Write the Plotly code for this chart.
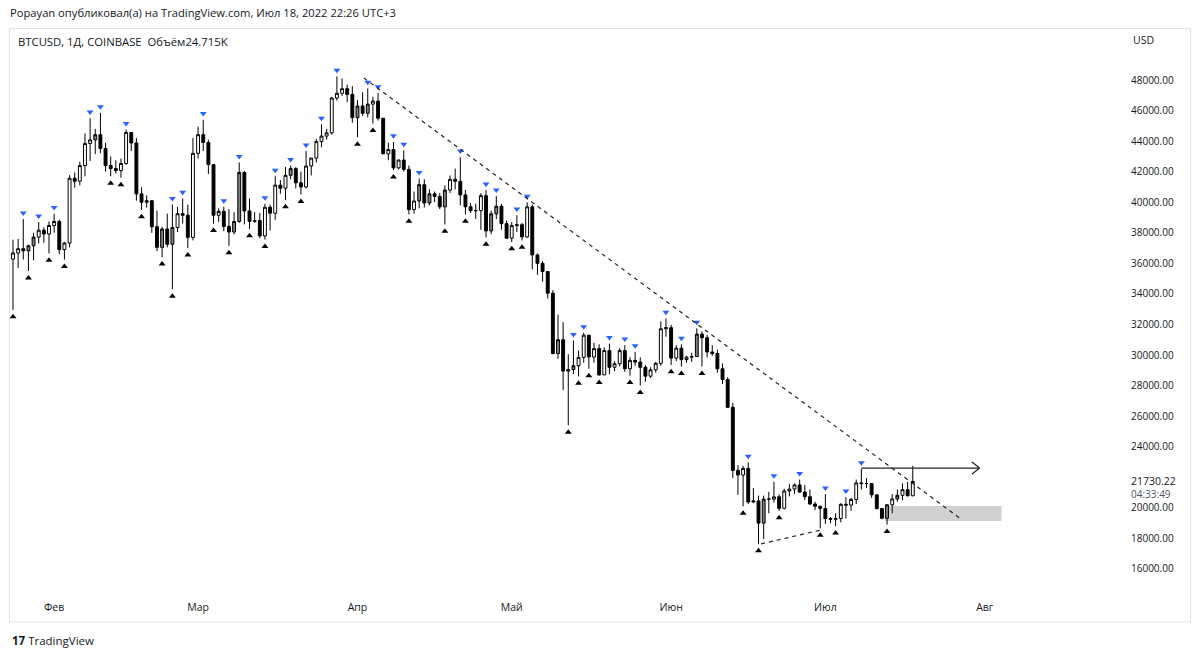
import plotly.graph_objects as go
import pandas as pd

# ---------------- data (BTCUSD daily, Coinbase) ----------------
dates = pd.date_range("2022-01-22", "2022-07-18", freq="D")

opens = [36450, 35050, 36280, 36680, 36960, 36820, 37150, 37720, 38170, 37920,
         38480, 38740, 36900, 37330, 41570, 41380, 42400, 43840, 44080, 44420,
         43520, 42400, 42210, 42070, 42540, 44570, 43880, 40550, 40000, 40100,
         38400, 37050, 38250, 37250, 38350, 39250, 39150, 37700,
         43200, 44420, 43910, 42460, 39150, 39400, 38420, 38050, 38740, 41950,
         39430, 38750, 38800, 37800, 39670, 39280, 41120, 40920, 41760, 42200,
         41270, 41000, 42370, 42890, 43970, 44330, 44540, 46820, 47130, 47430, 47060,
         45530, 46300, 45820, 46420, 46620, 45500, 43170, 43450, 42250, 42760,
         42150, 39520, 40080, 41150, 39950, 40550, 40380, 39700, 40800, 41500,
         41370, 40480, 39700, 39450, 39450, 40430, 38120, 39240, 39740, 38600,
         37650, 38470, 38530, 37730, 39700, 36550, 36000, 35470, 34050, 30100,
         31000, 28950, 29050, 29300, 29850, 31300, 29870, 30420, 28700, 30300,
         29200, 29430, 30290, 29100, 29650, 29540, 29200, 28620, 29030, 29460, 31720,
         31790, 29800, 30450, 29700, 29860, 29900, 31370, 31130, 30200, 30100,
         29100, 28400, 26580, 22450, 22150, 22580, 20380, 20450, 19000, 20570,
         20570, 20720, 19970, 21100, 21230, 21500, 21030, 20730, 20250, 20100,
         19950, 19300, 19250, 19300, 20230, 20180, 20550, 21630, 21590, 21590,
         20850, 19950, 19320, 20200, 20580, 20820, 21190, 20790]

highs = [36800, 36450, 37550, 37600, 38900, 37230, 38000, 38700, 38360, 38750,
         39250, 38850, 37400, 41770, 41950, 42650, 44500, 45500, 44800, 45850,
         43900, 43000, 42750, 42850, 44750, 44570, 44200, 40980, 40450, 40150,
         39450, 38400, 39250, 39850, 39700, 40250, 39850, 44200,
         44950, 45400, 44100, 42500, 39600, 39700, 39550, 39350, 42600, 42050,
         40250, 39350, 39300, 39900, 39850, 41700, 41450, 42300, 42400, 42300,
         42000, 43350, 42900, 44150, 45100, 44800, 46900, 48230, 48100, 47700, 47600,
         46700, 47200, 47450, 46900, 47150, 45500, 43900, 43950, 42800, 43400,
         42400, 40700, 41550, 41500, 40850, 40700, 40600, 41100, 41750, 42200,
         42950, 40800, 39950, 39900, 40600, 40800, 39450, 40400, 39900, 38800,
         38700, 39150, 38650, 40000, 39850, 36650, 36150, 35500, 34250, 32650,
         32150, 30050, 30950, 30300, 31450, 31300, 30800, 30700, 30500, 30750,
         29600, 30450, 30650, 29850, 30200, 29850, 29350, 29200, 29550, 32200, 32400,
         31980, 30650, 30700, 29950, 30150, 31750, 31550, 31330, 30650, 30350,
         29450, 28550, 26880, 22800, 22750, 22980, 21300, 20800, 20800, 21050,
         21700, 20880, 21250, 21550, 21600, 21850, 21500, 21200, 20400, 20150,
         20900, 19400, 19650, 20300, 20700, 20650, 21850, 22550, 21950, 21600,
         20850, 20000, 20250, 20900, 21200, 21600, 21700, 22750]

lows = [34000, 34650, 32950, 35700, 36250, 35500, 36200, 37300, 37350, 36650,
        38000, 36600, 36250, 37050, 40950, 41100, 41700, 42700, 43150, 43200,
        42000, 41700, 41880, 41600, 42440, 43350, 40100, 39500, 39650, 38000,
        36800, 36400, 37050, 34300, 38050, 38600, 37000, 37500,
        42850, 43350, 41850, 38600, 38700, 38100, 37150, 37900, 38660, 38550,
        38250, 38650, 37650, 37550, 38150, 38850, 40550, 40150, 41500, 40900,
        40500, 40900, 41750, 42600, 43600, 44100, 44420, 46650, 46950, 46550, 45200,
        44250, 45650, 45550, 45150, 45350, 43150, 42750, 42100, 42150, 42000,
        39200, 39250, 39600, 39650, 39800, 40000, 39550, 38550, 40600, 40850,
        39800, 39200, 39300, 38900, 38200, 37700, 37900, 38900, 38200, 37600,
        37400, 38050, 37500, 37680, 35600, 35250, 34800, 33700, 30050, 29750,
        27700, 25400, 28750, 28600, 29500, 29100, 29500, 28650, 28700, 28750,
        28950, 29250, 28900, 28650, 29300, 28000, 28250, 28500, 28850, 29300, 31200,
        29350, 29600, 29250, 29500, 29550, 29880, 29250, 29850, 29950, 28850,
        28100, 26550, 21950, 20850, 20100, 20250, 20300, 17650, 17950, 19650,
        20350, 19800, 19900, 20750, 20900, 20980, 20500, 20200, 19850, 18650,
        18950, 18990, 18800, 19050, 19300, 19800, 20250, 21200, 21300, 20650,
        19900, 19250, 18900, 19650, 20400, 20500, 20750, 20760]

closes = [35050, 36280, 36680, 36960, 36820, 37150, 37720, 38170, 37920, 38480,
          38740, 36900, 37330, 41570, 41380, 42400, 43840, 44080, 44420, 43520,
          42400, 42210, 42070, 42540, 44570, 43880, 40550, 40000, 40100, 38400,
          37050, 38250, 37250, 38350, 39250, 39150, 37700, 43200,
          44420, 43910, 42460, 39150, 39400, 38420, 38050, 38740, 41950, 39430,
          38750, 38800, 37800, 39670, 39280, 41120, 40920, 41760, 42200, 41270,
          41000, 42370, 42890, 43970, 44330, 44540, 46820, 47130, 47430, 47060, 45530,
          46300, 45820, 46420, 46620, 45500, 43170, 43450, 42250, 42760, 42150,
          39520, 40080, 41150, 39950, 40550, 40380, 39700, 40800, 41500, 41370,
          40480, 39700, 39450, 39450, 40430, 38120, 39240, 39740, 38600, 37650,
          38470, 38530, 37730, 39700, 36550, 36000, 35470, 34050, 30100, 31000,
          28950, 29050, 29300, 29850, 31300, 29870, 30420, 28700, 30300, 29200,
          29430, 30290, 29100, 29650, 29540, 29200, 28620, 29030, 29460, 31720, 31790,
          29800, 30450, 29700, 29860, 29900, 31370, 31130, 30200, 30100, 29100,
          28400, 26580, 22450, 22150, 22580, 20380, 20450, 19000, 20570, 20570,
          20720, 19970, 21100, 21230, 21500, 21030, 20730, 20250, 20100, 19950,
          19300, 19250, 19300, 20230, 20180, 20550, 21630, 21590, 21590, 20850,
          19950, 19320, 20200, 20580, 20820, 21190, 20790, 21730]

# candles drawn in grey in the original
grey_days = ["2022-01-27", "2022-01-28", "2022-02-09", "2022-02-22", "2022-02-24",
             "2022-03-08", "2022-03-09", "2022-03-19", "2022-04-01", "2022-04-03",
             "2022-04-13", "2022-04-15", "2022-04-18", "2022-04-27", "2022-04-28",
             "2022-05-10", "2022-05-12", "2022-05-13", "2022-06-06", "2022-06-19",
             "2022-07-13", "2022-07-15"]

month_ticks = ["2022-02-01", "2022-03-01", "2022-04-01", "2022-05-01",
               "2022-06-01", "2022-07-01", "2022-08-01"]
month_labels = ["Фев", "Мар", "Апр", "Май", "Июн", "Июл", "Авг"]
price_ticks = [16000, 18000, 20000, 24000, 26000, 28000, 30000, 32000,
               34000, 36000, 38000, 40000, 42000, 44000, 46000, 48000]

last_price = "21730.22"
countdown = "04:33:49"

# ---------------- 3-bar fractals derived from the data ----------------
up_x, up_y, dn_x, dn_y = [], [], [], []
for i in range(1, len(dates) - 1):
    if highs[i] > highs[i - 1] and highs[i] > highs[i + 1]:
        up_x.append(dates[i]); up_y.append(highs[i] + 400)
    if lows[i] < lows[i - 1] and lows[i] < lows[i + 1]:
        dn_x.append(dates[i]); dn_y.append(lows[i] - 450)

grey_set = set(pd.to_datetime(grey_days))
is_grey = [d in grey_set for d in dates]


def subset(vals, want):
    return [v for v, g in zip(vals, is_grey) if g == want]


# ---------------- layout geometry ----------------
W, H = 1200, 658
PL, PR, PT, PB = 10, 1118, 28, 595


def fx(x):
    return (x - PL) / (PR - PL)


def fy(y):
    return (PB - y) / (PB - PT)


FONT = "Open Sans"
TXT = "#131722"
GREY = "#7f7f7f"
LINE = "#222222"

fig = go.Figure()

fig.add_trace(go.Candlestick(
    x=subset(list(dates), False), open=subset(opens, False), high=subset(highs, False),
    low=subset(lows, False), close=subset(closes, False),
    increasing=dict(line=dict(color="#000000", width=1), fillcolor="#ffffff"),
    decreasing=dict(line=dict(color="#000000", width=1), fillcolor="#000000"),
    whiskerwidth=0, showlegend=False, hoverinfo="x+y",
))
fig.add_trace(go.Candlestick(
    x=subset(list(dates), True), open=subset(opens, True), high=subset(highs, True),
    low=subset(lows, True), close=subset(closes, True),
    increasing=dict(line=dict(color="#000000", width=1), fillcolor=GREY),
    decreasing=dict(line=dict(color="#000000", width=1), fillcolor=GREY),
    whiskerwidth=0, showlegend=False, hoverinfo="x+y",
))

fig.add_trace(go.Scatter(
    x=up_x, y=up_y, mode="markers", showlegend=False,
    marker=dict(symbol="triangle-down", size=6, color="#2962ff"),
))
fig.add_trace(go.Scatter(
    x=dn_x, y=dn_y, mode="markers", showlegend=False,
    marker=dict(symbol="triangle-up", size=6, color="#000000"),
))

shapes = []
# highlight zone
shapes.append(dict(type="rect", xref="x", yref="y",
                   x0="2022-07-12 12:00", x1="2022-08-04 06:00", y0=19140, y1=20120,
                   fillcolor="#d1d1d1", line=dict(width=0), layer="below"))
# descending trend line
shapes.append(dict(type="line", xref="x", yref="y",
                   x0="2022-04-02 06:00", y0=48130, x1="2022-07-27 02:00", y1=19340,
                   line=dict(color=LINE, width=1.2, dash="4px,4px")))
# lower support line
shapes.append(dict(type="line", xref="x", yref="y",
                   x0="2022-06-18 12:00", y0=17640, x1="2022-06-30 06:00", y1=18560,
                   line=dict(color=LINE, width=1.2, dash="4px,4px")))
# horizontal arrow
shapes.append(dict(type="line", xref="x", yref="y",
                   x0="2022-07-08", y0=22600, x1="2022-07-31", y1=22600,
                   line=dict(color=LINE, width=1.3)))
shapes.append(dict(type="line", xref="x", yref="y",
                   x0="2022-07-29 12:00", y0=23000, x1="2022-07-31", y1=22600,
                   line=dict(color=LINE, width=1.3)))
shapes.append(dict(type="line", xref="x", yref="y",
                   x0="2022-07-29 12:00", y0=22200, x1="2022-07-31", y1=22600,
                   line=dict(color=LINE, width=1.3)))
# chart frame
shapes.append(dict(type="rect", xref="paper", yref="paper",
                   x0=fx(9.5), x1=fx(1190.5), y0=fy(622), y1=fy(28.5),
                   line=dict(color="#e0e3eb", width=1), fillcolor="rgba(0,0,0,0)",
                   layer="below"))

ann = []
ann.append(dict(x=fx(8), y=fy(12), xref="paper", yref="paper", xanchor="left",
                yanchor="middle", showarrow=False,
                text="Popayan опубликовал(а) на TradingView.com, Июл 18, 2022 22:26 UTC+3",
                font=dict(family=FONT, size=11.2, color=TXT)))
ann.append(dict(x=fx(16), y=fy(41), xref="paper", yref="paper", xanchor="left",
                yanchor="middle", showarrow=False,
                text="BTCUSD, 1Д, COINBASE\u00a0\u00a0Объём24.715K",
                font=dict(family=FONT, size=11.3, color=TXT)))
ann.append(dict(x=fx(1131), y=fy(40), xref="paper", yref="paper", xanchor="left",
                yanchor="middle", showarrow=False, text="USD",
                font=dict(family=FONT, size=10.5, color=TXT)))
ann.append(dict(x=fx(1129), y=fy(481), xref="paper", yref="paper", xanchor="left",
                yanchor="middle", showarrow=False, text=last_price,
                font=dict(family=FONT, size=10.5, color=TXT)))
ann.append(dict(x=fx(1129), y=fy(494), xref="paper", yref="paper", xanchor="left",
                yanchor="middle", showarrow=False, text=countdown,
                font=dict(family=FONT, size=10, color="#50535e")))
ann.append(dict(x=fx(10), y=fy(640), xref="paper", yref="paper", xanchor="left",
                yanchor="middle", showarrow=False,
                text="<b>17</b> TradingView",
                font=dict(family=FONT, size=11.5, color=TXT)))

fig.update_layout(
    width=W, height=H,
    margin=dict(l=PL, r=W - PR, t=PT, b=H - PB),
    paper_bgcolor="#ffffff", plot_bgcolor="#ffffff",
    boxgap=0.2,
    showlegend=False,
    shapes=shapes, annotations=ann,
    xaxis=dict(
        type="date",
        range=["2022-01-23 10:00", "2022-08-26 22:00"],
        rangeslider=dict(visible=False),
        tickvals=month_ticks, ticktext=month_labels,
        showgrid=False, zeroline=False, showline=False, ticks="",
        tickfont=dict(family=FONT, size=10.5, color=TXT),
        ticklabelstandoff=4,
    ),
    yaxis=dict(
        side="right", range=[14296, 51403],
        tickvals=price_ticks, ticktext=[f"{v:.2f}" for v in price_ticks],
        showgrid=False, zeroline=False, showline=False, ticks="",
        tickfont=dict(family=FONT, size=10, color=TXT),
        ticklabelstandoff=12,
    ),
)

fig.write_html("out.html", config={"displayModeBar": False},
               post_script="document.body.style.margin='0';")
